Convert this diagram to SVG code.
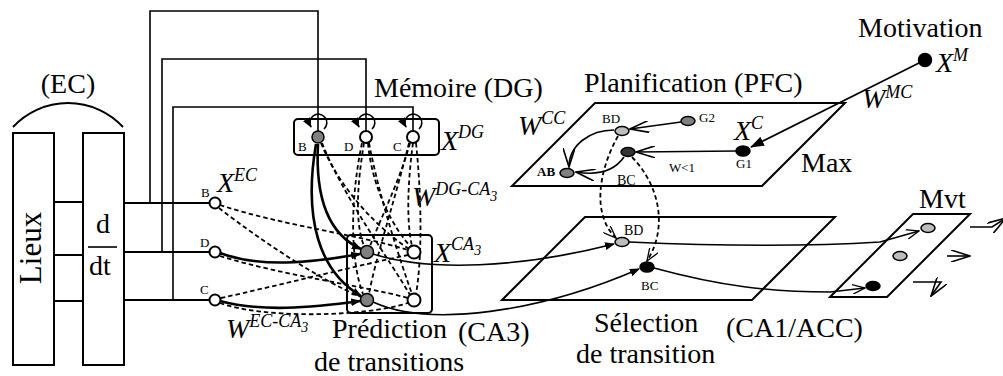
<svg xmlns="http://www.w3.org/2000/svg" width="1003" height="376" viewBox="0 0 1003 376">
<style>
.ln{fill:none;stroke:#000;stroke-width:1.6}
.th{fill:none;stroke:#000;stroke-width:2.6}
.ds{fill:none;stroke:#000;stroke-width:1.8;stroke-dasharray:4.5 3}
text{font-family:'Liberation Serif',serif;fill:#000}
.big{font-size:28px}
.sm{font-size:13px}
.it{font-style:italic;font-size:28px}
.sup{font-size:18px}
.sub{font-size:14px}
.box{fill:#fff;stroke:#000;stroke-width:2}
.pl{fill:none;stroke:#000;stroke-width:2}
.nw{fill:#fff;stroke:#000;stroke-width:2}
.ng{fill:#808080;stroke:#000;stroke-width:1.5}
.nl{fill:#bdbdbd;stroke:#000;stroke-width:1.5}
.nb{fill:#000;stroke:#000;stroke-width:1.5}
</style>
<defs>
<marker id="fa" viewBox="0 0 10 8" refX="9" refY="4" markerWidth="10" markerHeight="8" markerUnits="userSpaceOnUse" orient="auto"><path d="M0,0 L10,4 L0,8 z" fill="#000"/></marker>
<marker id="fb" viewBox="0 0 14 10" refX="13" refY="5" markerWidth="14" markerHeight="10" markerUnits="userSpaceOnUse" orient="auto"><path d="M0,0 L14,5 L0,10 z" fill="#000"/></marker>
<marker id="op" viewBox="0 0 14 10" refX="13" refY="5" markerWidth="14" markerHeight="10" markerUnits="userSpaceOnUse" orient="auto"><path d="M0,0 L13,5 L0,10" fill="none" stroke="#000" stroke-width="1.3"/></marker>
<marker id="opl" viewBox="0 0 20 12" refX="19" refY="6" markerWidth="20" markerHeight="12" markerUnits="userSpaceOnUse" orient="auto"><path d="M0,0 L19,6 L0,12" fill="none" stroke="#000" stroke-width="1.6"/></marker>
</defs>

<!-- EC -->
<g id="ec">
<rect x="13" y="133" width="41" height="232" class="box"/>
<rect x="83" y="133" width="41" height="232" class="box"/>
<path d="M13,127 A75,75 0 0 1 123,127" class="pl"/>
<text x="68" y="93" class="big" text-anchor="middle">(EC)</text>
<text transform="translate(41,248) rotate(-90)" class="big" font-size="31" style="font-size:31px" text-anchor="middle">Lieux</text>
<text x="103" y="233" class="big" text-anchor="middle">d</text>
<line x1="88" y1="247" x2="117" y2="247" class="ln"/>
<text x="100" y="275" class="big" text-anchor="middle">dt</text>
<path d="M54,202 H83 M54,255 H83 M54,301 H83" class="pl"/>
</g>

<!-- connectors -->
<g id="connectors">
<path d="M124,203 H209 M124,252 H209 M124,300 H209" class="pl"/>
<path d="M150,203 V11 H318 V131 M162,252 V59 H366 V131 M173,300 V107 H413 V131" class="ln"/>
<path d="M220,205 C280,225 360,235 408,250" class="ds"/>
<path d="M219,208 C260,240 320,280 361,297" class="ds"/>
<path d="M220,256 C280,275 360,285 408,298" class="ds"/>
<path d="M221,298 C280,285 360,265 408,255" class="ds"/>
<path d="M220,303 C260,318 360,318 408,303" class="ds"/>
<path d="M321,143 C340,190 380,230 409,249" class="ds"/>
<path d="M322,143 C345,200 390,260 410,295" class="ds"/>
<path d="M364,143 C358,180 354,220 364,246" class="ds"/>
<path d="M362,143 C350,200 350,260 363,294" class="ds"/>
<path d="M368,143 C372,190 395,230 411,247" class="ds"/>
<path d="M369,143 C380,200 400,260 412,294" class="ds"/>
<path d="M410,143 C400,180 380,220 370,246" class="ds"/>
<path d="M409,143 C395,200 375,260 369,294" class="ds"/>
<path d="M413,143 C408,180 406,220 412,246" class="ds"/>
<path d="M416,143 C422,200 422,260 416,294" class="ds"/>
<path d="M318,144 C315,200 330,235 361,249" class="th" marker-end="url(#fa)"/>
<path d="M316,144 C303,220 320,272 361,296" class="th" marker-end="url(#fa)"/>
<path d="M220,253 C260,268 310,263 360,254" class="th" marker-end="url(#fa)"/>
<path d="M220,301 C260,312 310,308 360,301" class="th" marker-end="url(#fa)"/>
<path d="M373,254 C430,272 520,268 614,244" class="ln" marker-end="url(#fa)"/>
<path d="M373,302 C430,328 540,312 639,269" class="ln" marker-end="url(#fa)"/>
<path d="M629,242 C720,246 800,247 880,242 L919,231" class="ln" marker-end="url(#op)"/>
<path d="M654,268 C720,286 770,292 830,292 L865,288" class="ln" marker-end="url(#op)"/>
<path d="M618,136 C598,172 592,215 616,238" class="ds" marker-end="url(#op)"/>
<path d="M632,157 C660,186 668,228 647,261" class="ds" marker-end="url(#op)"/>
<path d="M681,122 L630,129" class="ln" marker-end="url(#opl)"/>
<path d="M736,151 L636,152" class="ln" marker-end="url(#opl)"/>
<path d="M614,130 C590,130 569,145 569,167" class="ln" marker-end="url(#opl)"/>
<path d="M624,157 C615,170 600,176 576,172" class="ln" marker-end="url(#opl)"/>
<path d="M925,60 L751,147" class="ln" stroke-width="2" marker-end="url(#fb)"/>
<path d="M970,227 H992 L1006,218" class="ln" marker-end="url(#opl)"/>
<path d="M947,256 L970,256" class="ln" stroke-width="0" marker-end="url(#opl)"/>
<path d="M913,282 H941 L931,296" class="ln" marker-end="url(#opl)"/>
</g>

<!-- Memory DG -->
<g id="dg">
<rect x="294" y="119" width="145" height="36" rx="4" class="pl"/>
<path d="M324,129 A8.5,8.5 0 1 0 311,127" class="ln" marker-end="url(#fa)"/>
<path d="M372,129 A8.5,8.5 0 1 0 359,127" class="ln" marker-end="url(#fa)"/>
<path d="M419,129 A8.5,8.5 0 1 0 406,127" class="ln" marker-end="url(#fa)"/>
<circle cx="318" cy="137" r="6" class="ng"/>
<circle cx="366" cy="137" r="6" class="nw"/>
<circle cx="413" cy="137" r="6" class="nw"/>
<text x="298" y="151" class="sm">B</text>
<text x="344" y="151" class="sm">D</text>
<text x="393" y="151" class="sm">C</text>
<text x="374" y="97" class="big">Mémoire (DG)</text>
<text x="441" y="150" class="it">X<tspan class="sup" dy="-12">DG</tspan></text>
<text x="412" y="206" class="it">W<tspan class="sup" dy="-11">DG-CA</tspan><tspan class="sub" dy="6">3</tspan></text>
</g>

<!-- EC nodes -->
<g id="ecnodes">
<circle cx="215" cy="203" r="5.5" class="nw"/>
<circle cx="215" cy="252" r="5.5" class="nw"/>
<circle cx="215" cy="300" r="5.5" class="nw"/>
<text x="201" y="197" class="sm">B</text>
<text x="200" y="247" class="sm">D</text>
<text x="200" y="294" class="sm">C</text>
<text x="217" y="192" class="it">X<tspan class="sup" dy="-11">EC</tspan></text>
<text x="226" y="338" class="it">W<tspan class="sup" dy="-11">EC-CA</tspan><tspan class="sub" dy="5">3</tspan></text>
</g>

<!-- CA3 -->
<g id="ca3">
<rect x="347" y="235" width="85" height="78" rx="4" class="pl"/>
<circle cx="367" cy="252" r="6.5" class="ng"/>
<circle cx="414" cy="252" r="6.5" class="nw"/>
<circle cx="367" cy="300" r="6.5" class="ng"/>
<circle cx="414" cy="300" r="6.5" class="nw"/>
<text x="434" y="262" class="it">X<tspan class="sup" dy="-12">CA</tspan><tspan class="sub" dy="5">3</tspan></text>
<text x="332" y="338" class="big">Prédiction</text>
<text x="314" y="371" class="big">de transitions</text>
<text x="458" y="341" class="big">(CA3)</text>
</g>

<!-- Planification -->
<g id="pfc">
<path d="M595,103 H845 L762,186 H512 Z" class="pl"/>
<ellipse cx="688" cy="121" rx="7" ry="4.5" class="ng"/>
<ellipse cx="622" cy="131" rx="7" ry="4.5" class="nl"/>
<ellipse cx="628" cy="152" rx="7" ry="4.5" fill="#333" stroke="#000" stroke-width="1.5"/>
<ellipse cx="567" cy="173" rx="7" ry="4.5" class="ng"/>
<ellipse cx="743" cy="151" rx="7" ry="5" class="nb"/>
<text x="699" y="122" class="sm">G2</text>
<text x="602" y="123" class="sm">BD</text>
<text x="617" y="185" class="sm" style="font-size:14px">BC</text>
<text x="537" y="176" class="sm" font-weight="bold">AB</text>
<text x="736" y="168" class="sm">G1</text>
<text x="669" y="172" class="sm">W&lt;1</text>
<text x="584" y="92" class="big">Planification (PFC)</text>
<text x="518" y="135" class="it">W<tspan class="sup" dy="-11">CC</tspan></text>
<text x="734" y="140" class="it">X<tspan class="sup" dy="-11">C</tspan></text>
<text x="801" y="172" class="big">Max</text>
</g>

<!-- Motivation -->
<g id="motivation">
<circle cx="925" cy="60" r="6.5" class="nb"/>
<text x="858" y="37" class="big">Motivation</text>
<text x="936" y="72" class="it">X<tspan class="sup" dy="-11">M</tspan></text>
<text x="862" y="108" class="it">W<tspan class="sup" dy="-10">MC</tspan></text>
</g>

<!-- Selection -->
<g id="selection">
<path d="M585,217 H835 L752,300 H502 Z" class="pl"/>
<ellipse cx="622" cy="242" rx="7" ry="4.5" class="nl"/>
<ellipse cx="647" cy="267" rx="7" ry="5" class="nb"/>
<text x="624" y="235" class="sm" style="font-size:14px">BD</text>
<text x="641" y="290" class="sm">BC</text>
<text x="594" y="332" class="big">Sélection</text>
<text x="576" y="363" class="big">de transition</text>
<text x="726" y="337" class="big">(CA1/ACC)</text>
</g>

<!-- Mvt -->
<g id="mvt">
<path d="M913,214 H970 L887,297 H830 Z" class="pl"/>
<ellipse cx="928" cy="228" rx="7" ry="4.5" class="nl"/>
<ellipse cx="900" cy="256" rx="7" ry="4.5" class="nl"/>
<ellipse cx="873" cy="286" rx="7" ry="4.5" class="nb"/>
<text x="919" y="208" class="big">Mvt</text>
</g>
</svg>
